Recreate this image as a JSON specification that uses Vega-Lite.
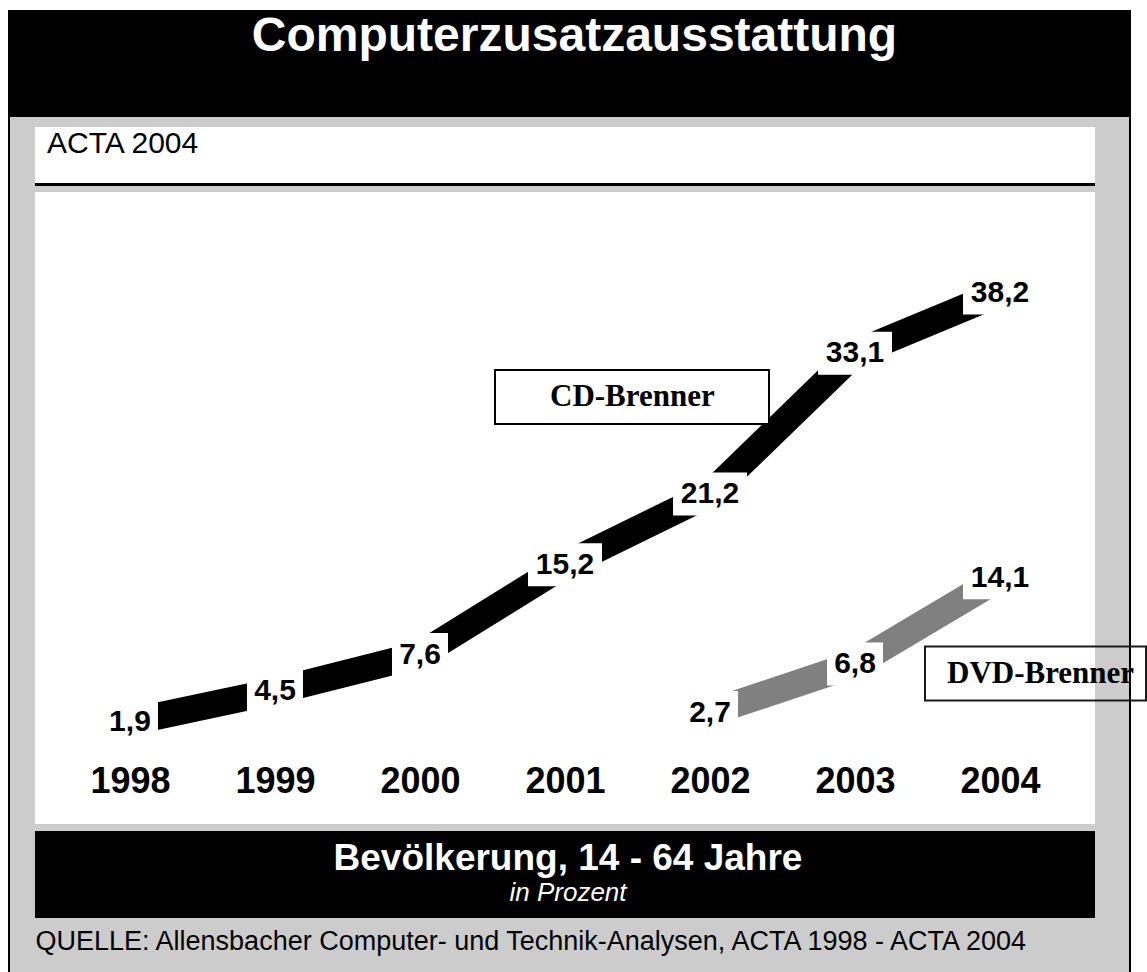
{
  "$schema": "https://vega.github.io/schema/vega-lite/v6.json",
  "background": "white",
  "padding": {"left": 8, "top": 10, "right": 0, "bottom": 0},
  "config": {
    "view": {"stroke": null},
    "font": "Liberation Sans",
    "locale": {"number": {"decimal": ",", "thousands": ".", "grouping": [3], "currency": ["", " €"]}}
  },
  "datasets": {
    "ribbons": [
      {"series": "CD-Brenner", "year": "1998", "value": 1.9},
      {"series": "CD-Brenner", "year": "1999", "value": 4.5},
      {"series": "CD-Brenner", "year": "2000", "value": 7.6},
      {"series": "CD-Brenner", "year": "2001", "value": 15.2},
      {"series": "CD-Brenner", "year": "2002", "value": 21.2},
      {"series": "CD-Brenner", "year": "2003", "value": 33.1},
      {"series": "CD-Brenner", "year": "2004", "value": 38.2},
      {"series": "DVD-Brenner", "year": "2002", "value": 2.7},
      {"series": "DVD-Brenner", "year": "2003", "value": 6.8},
      {"series": "DVD-Brenner", "year": "2004", "value": 14.1}
    ],
    "one": [{}]
  },
  "spacing": 0,
  "resolve": {"scale": {"color": "independent"}, "legend": {"color": "independent"}},
  "vconcat": [
    {
      "width": 1123,
      "height": 107,
      "view": {"fill": "#000000"},
      "data": {"name": "one"},
      "mark": {
        "type": "text",
        "text": "Computerzusatzausstattung",
        "color": "white",
        "font": "Liberation Sans",
        "fontSize": 48,
        "fontWeight": "bold",
        "align": "center",
        "baseline": "alphabetic",
        "dx": 5,
        "dy": -13
      }
    },
    {
      "spacing": 0,
      "bounds": "flush",
      "hconcat": [
        {"width": 2, "height": 10, "view": {"fill": "#000000"}, "data": {"values": []}, "mark": "point"},
        {"width": 1119, "height": 10, "view": {"fill": "#cccccc"}, "data": {"values": []}, "mark": "point"},
        {"width": 2, "height": 10, "view": {"fill": "#000000"}, "data": {"values": []}, "mark": "point"}
      ]
    },
    {
      "spacing": 0,
      "bounds": "flush",
      "hconcat": [
        {"width": 2, "height": 56, "view": {"fill": "#000000"}, "data": {"values": []}, "mark": "point"},
        {"width": 25, "height": 56, "view": {"fill": "#cccccc"}, "data": {"values": []}, "mark": "point"},
        {
          "width": 1060,
          "height": 56,
          "view": {"fill": "white"},
          "data": {"name": "one"},
          "mark": {
            "type": "text",
            "text": "ACTA 2004",
            "color": "black",
            "font": "Liberation Sans",
            "fontSize": 30,
            "align": "left",
            "baseline": "alphabetic",
            "dx": -518,
            "dy": -2
          }
        },
        {"width": 34, "height": 56, "view": {"fill": "#cccccc"}, "data": {"values": []}, "mark": "point"},
        {"width": 2, "height": 56, "view": {"fill": "#000000"}, "data": {"values": []}, "mark": "point"}
      ]
    },
    {
      "spacing": 0,
      "bounds": "flush",
      "hconcat": [
        {"width": 2, "height": 3, "view": {"fill": "#000000"}, "data": {"values": []}, "mark": "point"},
        {"width": 25, "height": 3, "view": {"fill": "#cccccc"}, "data": {"values": []}, "mark": "point"},
        {"width": 1060, "height": 3, "view": {"fill": "#000000"}, "data": {"values": []}, "mark": "point"},
        {"width": 34, "height": 3, "view": {"fill": "#cccccc"}, "data": {"values": []}, "mark": "point"},
        {"width": 2, "height": 3, "view": {"fill": "#000000"}, "data": {"values": []}, "mark": "point"}
      ]
    },
    {
      "spacing": 0,
      "bounds": "flush",
      "hconcat": [
        {"width": 2, "height": 6, "view": {"fill": "#000000"}, "data": {"values": []}, "mark": "point"},
        {"width": 1119, "height": 6, "view": {"fill": "#cccccc"}, "data": {"values": []}, "mark": "point"},
        {"width": 2, "height": 6, "view": {"fill": "#000000"}, "data": {"values": []}, "mark": "point"}
      ]
    },
    {
      "spacing": 0,
      "bounds": "flush",
      "resolve": {"scale": {"color": "independent"}, "legend": {"color": "independent"}},
      "hconcat": [
        {"width": 2, "height": 632, "view": {"fill": "#000000"}, "data": {"values": []}, "mark": "point"},
        {"width": 25, "height": 632, "view": {"fill": "#cccccc"}, "data": {"values": []}, "mark": "point"},
        {
          "width": 1060,
          "height": 632,
          "view": {"fill": "white"},
          "data": {"name": "ribbons"},
          "encoding": {
            "x": {
              "field": "year",
              "type": "ordinal",
              "scale": {"type": "point", "padding": 0.655},
              "axis": {
                "title": null,
                "orient": "bottom",
                "offset": -60,
                "domain": false,
                "ticks": false,
                "tickSize": 0,
                "grid": false,
                "labelPadding": 0,
                "labelAngle": 0,
                "labelFont": "Liberation Sans",
                "labelFontWeight": "bold",
                "labelFontSize": 36,
                "labelColor": "black"
              }
            },
            "y": {
              "field": "value",
              "type": "quantitative",
              "scale": {"domain": [-6.73, 46.74], "nice": false, "zero": false},
              "axis": null
            }
          },
          "layer": [
            {
              "transform": [{"filter": "datum.series === 'CD-Brenner'"}],
              "mark": {"type": "line", "strokeWidth": 27, "strokeCap": "butt", "strokeJoin": "bevel"},
              "encoding": {
                "color": {
                  "field": "series",
                  "type": "nominal",
                  "scale": {"range": ["#000000"]},
                  "legend": {
                    "orient": "none",
                    "legendX": 459,
                    "legendY": 67,
                    "title": null,
                    "padding": 0,
                    "symbolType": "M-1,-0.197H1V0.197H-1Z",
                    "symbolSize": 75076,
                    "symbolStrokeWidth": 2,
                    "symbolFillColor": "white",
                    "symbolStrokeColor": "#1a1a1a",
                    "labelFont": "Liberation Serif",
                    "labelFontWeight": "bold",
                    "labelFontSize": 31,
                    "labelColor": "black",
                    "labelOffset": -220,
                    "labelLimit": 0,
                    "encode": {
                      "symbols": {
                        "update": {
                          "fill": {"value": "white"},
                          "stroke": {"value": "#1a1a1a"},
                          "strokeWidth": {"value": 2},
                          "opacity": {"value": 1}
                        }
                      }
                    }
                  }
                }
              }
            },
            {
              "transform": [{"filter": "datum.series === 'DVD-Brenner'"}],
              "mark": {"type": "line", "strokeWidth": 27, "strokeCap": "butt", "strokeJoin": "bevel"},
              "encoding": {
                "color": {
                  "field": "series",
                  "type": "nominal",
                  "scale": {"range": ["#808080"]},
                  "legend": null
                }
              }
            },
            {
              "transform": [{"filter": "datum.value < 10"}],
              "mark": {"type": "rect", "width": 56, "height": 43, "fill": "white"}
            },
            {
              "transform": [{"filter": "datum.value >= 10"}],
              "mark": {"type": "rect", "width": 74, "height": 43, "fill": "white"}
            },
            {
              "mark": {
                "type": "text",
                "font": "Liberation Sans",
                "fontWeight": "bold",
                "fontSize": 30,
                "baseline": "middle",
                "color": "black"
              },
              "encoding": {
                "text": {"field": "value", "type": "quantitative", "format": ".1f"}
              }
            }
          ],
          "resolve": {"scale": {"color": "independent"}, "legend": {"color": "independent"}}
        },
        {"width": 34, "height": 632, "view": {"fill": "#cccccc"}, "data": {"values": []}, "mark": "point"},
        {
          "width": 2,
          "height": 632,
          "view": {"fill": "#000000"},
          "data": {"name": "ribbons"},
          "transform": [{"filter": "datum.series === 'DVD-Brenner'"}],
          "mark": {"type": "point", "opacity": 0},
          "encoding": {
            "color": {
              "field": "series",
              "type": "nominal",
              "scale": {"range": ["#1a1a1a"]},
              "legend": {
                "orient": "none",
                "legendX": -205,
                "legendY": 370,
                "title": null,
                "padding": 0,
                "symbolType": "M-1,-0.2443H1V0.2443H-1Z",
                "symbolSize": 48841,
                "symbolStrokeWidth": 2,
                "symbolFillColor": "white",
                "symbolStrokeColor": "#1a1a1a",
                "labelFont": "Liberation Serif",
                "labelFontWeight": "bold",
                "labelFontSize": 31,
                "labelColor": "black",
                "labelOffset": -200,
                "labelLimit": 0,
                "encode": {
                  "symbols": {
                    "update": {
                      "fill": {"value": "white"},
                      "stroke": {"value": "#1a1a1a"},
                      "strokeWidth": {"value": 2},
                      "opacity": {"value": 1}
                    }
                  }
                }
              }
            }
          }
        }
      ]
    },
    {
      "spacing": 0,
      "bounds": "flush",
      "hconcat": [
        {"width": 2, "height": 7, "view": {"fill": "#000000"}, "data": {"values": []}, "mark": "point"},
        {"width": 1119, "height": 7, "view": {"fill": "#cccccc"}, "data": {"values": []}, "mark": "point"},
        {"width": 2, "height": 7, "view": {"fill": "#000000"}, "data": {"values": []}, "mark": "point"}
      ]
    },
    {
      "spacing": 0,
      "bounds": "flush",
      "hconcat": [
        {"width": 2, "height": 87, "view": {"fill": "#000000"}, "data": {"values": []}, "mark": "point"},
        {"width": 25, "height": 87, "view": {"fill": "#cccccc"}, "data": {"values": []}, "mark": "point"},
        {
          "width": 1060,
          "height": 87,
          "view": {"fill": "#000000"},
          "data": {"name": "one"},
          "layer": [
            {
              "mark": {
                "type": "text",
                "text": "Bevölkerung, 14 - 64 Jahre",
                "color": "white",
                "font": "Liberation Sans",
                "fontSize": 37,
                "fontWeight": "bold",
                "align": "center",
                "baseline": "alphabetic",
                "dx": 3,
                "dy": -5
              }
            },
            {
              "mark": {
                "type": "text",
                "text": "in Prozent",
                "color": "white",
                "font": "Liberation Sans",
                "fontSize": 26,
                "fontStyle": "italic",
                "align": "center",
                "baseline": "alphabetic",
                "dx": 3,
                "dy": 26
              }
            }
          ]
        },
        {"width": 34, "height": 87, "view": {"fill": "#cccccc"}, "data": {"values": []}, "mark": "point"},
        {"width": 2, "height": 87, "view": {"fill": "#000000"}, "data": {"values": []}, "mark": "point"}
      ]
    },
    {
      "spacing": 0,
      "bounds": "flush",
      "hconcat": [
        {"width": 2, "height": 54, "view": {"fill": "#000000"}, "data": {"values": []}, "mark": "point"},
        {
          "width": 1119,
          "height": 54,
          "view": {"fill": "#cccccc"},
          "data": {"name": "one"},
          "mark": {
            "type": "text",
            "text": "QUELLE: Allensbacher Computer- und Technik-Analysen, ACTA 1998 - ACTA 2004",
            "color": "black",
            "font": "Liberation Sans",
            "fontSize": 27,
            "align": "left",
            "baseline": "alphabetic",
            "dx": -534,
            "dy": 5
          }
        },
        {"width": 2, "height": 54, "view": {"fill": "#000000"}, "data": {"values": []}, "mark": "point"}
      ]
    }
  ]
}
